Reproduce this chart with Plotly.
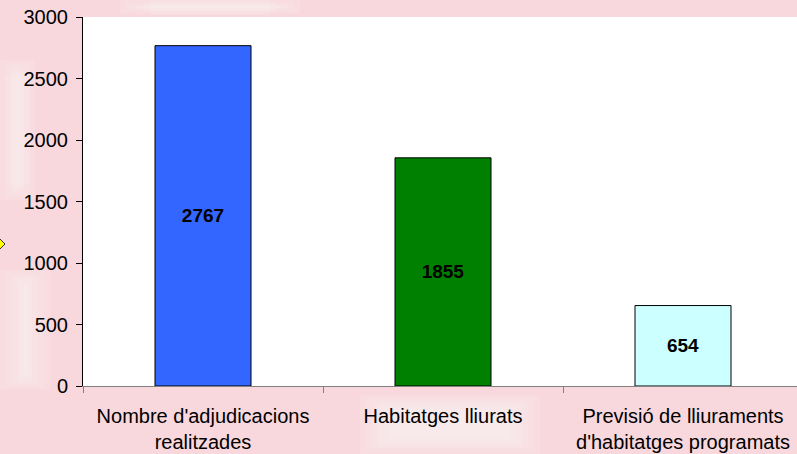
import plotly.graph_objects as go

categories = ["Nombre d'adjudicacions<br>realitzades", "Habitatges lliurats",
              "Previsió de lliuraments<br>d'habitatges programats"]
values = [2767, 1855, 654]
bar_colors = ["#3366FF", "#008000", "#CCFFFF"]
y_ticks = [0, 500, 1000, 1500, 2000, 2500, 3000]

W, H = 797, 454
L, R, T, B = 83, 0, 17, 68
pw, ph = W - L - R, H - T - B

def px_x(px):
    return (px - L) / pw

def px_y(py):
    return (H - B - py) / ph

fig = go.Figure()
fig.add_trace(go.Bar(
    x=categories, y=values,
    marker=dict(color=bar_colors, line=dict(color="black", width=1)),
    width=0.4,
    text=[str(v) for v in values],
    textposition="inside", insidetextanchor="middle",
    textfont=dict(family="Arial, Liberation Sans", size=19, color="black", weight="bold"),
    constraintext="none",
    hoverinfo="skip",
))

shapes = []
# soft background blotches (paper decoration): nested low-opacity rects
blotches = [
    (360, 395, 540, 454), (0, 270, 50, 390), (0, 60, 35, 200), (120, 0, 300, 14),
]
for x0, y0, x1, y1 in blotches:
    for k in range(6):
        d = k * 6
        shapes.append(dict(type="rect", xref="paper", yref="paper",
                           x0=px_x(x0 + d), x1=px_x(x1 - d), y0=px_y(y1 - d * 0.5), y1=px_y(y0 + d * 0.5),
                           fillcolor="white", opacity=0.1, line=dict(width=0), layer="below"))
# small yellow diamond at left edge
cx, cy, s = 0, 244, 5
path = "M {} {} L {} {} L {} {} L {} {} Z".format(
    px_x(cx - s), px_y(cy), px_x(cx), px_y(cy - s), px_x(cx + s), px_y(cy), px_x(cx), px_y(cy + s))
shapes.append(dict(type="path", xref="paper", yref="paper", path=path,
                   fillcolor="#FFFF00", line=dict(color="#333333", width=1), layer="above"))

fig.update_layout(
    width=W, height=H,
    margin=dict(l=L, r=R, t=T, b=B, pad=0),
    paper_bgcolor="#F8D8DC",
    plot_bgcolor="white",
    showlegend=False,
    bargap=0.6,
    font=dict(family="Arial, Liberation Sans", size=20, color="black"),
    shapes=shapes,
)
fig.update_xaxes(
    range=[-0.5, 2.475], showline=True, linecolor="#808080", linewidth=1,
    ticks="outside", tickson="boundaries", ticklen=6, tickcolor="#808080",
    showgrid=False, tickfont=dict(size=20), ticklabelstandoff=12, fixedrange=True,
)
fig.update_yaxes(
    range=[0, 3000], tickvals=y_ticks, showline=True, linecolor="black", linewidth=1,
    ticks="outside", ticklen=6, tickcolor="black", showgrid=False, zeroline=False,
    tickfont=dict(size=20), ticklabelstandoff=4, fixedrange=True,
)
fig.write_html("out.html", config={"displayModeBar": False},
               post_script="document.body.style.margin='0';document.body.style.overflow='hidden';")
